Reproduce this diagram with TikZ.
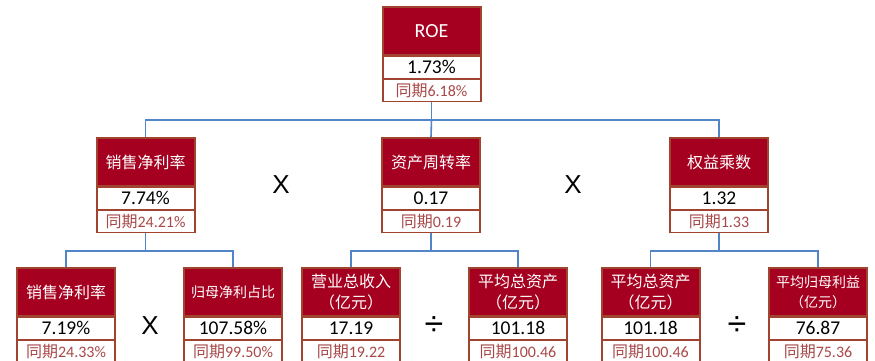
\documentclass[tikz,border=0pt]{standalone}
\usepackage{fontspec}
\setmainfont{Carlito}
\newfontfamily\cjk{Noto Sans CJK SC}
\newfontfamily\opfont{Liberation Sans}
\definecolor{bordercol}{HTML}{A0432F}
\definecolor{headred}{HTML}{A5001F}
\definecolor{prevcol}{HTML}{A84848}
\definecolor{linkblue}{HTML}{5285C8}
\tikzset{
  outerbox/.style={rectangle, fill=bordercol, draw=none, minimum width=100pt, minimum height=96pt, inner sep=0pt},
  headbox/.style={rectangle, fill=headred, text=white, minimum width=96pt, minimum height=46pt, inner sep=0pt, align=center, font=\cjk\fontsize{16}{21}\selectfont},
  smallhead/.style={font=\cjk\fontsize{14}{20}\selectfont},
  romanhead/.style={font=\fontsize{20}{20}\selectfont},
  valbox/.style={rectangle, fill=white, text=black, minimum width=96pt, minimum height=21pt, inner sep=0pt, font=\fontsize{19.5}{19.5}\selectfont},
  prevbox/.style={rectangle, fill=white, text=prevcol, minimum width=96pt, minimum height=21pt, inner sep=0pt, font=\fontsize{16}{16}\selectfont},
  link/.style={draw=linkblue, line width=1.6pt},
  optext/.style={font=\opfont\fontsize{26}{26}\selectfont, inner sep=0pt},
  divtext/.style={font=\opfont\fontsize{34}{34}\selectfont, inner sep=0pt}
}
\newcommand\metricbox[7][]{%
  \node[outerbox, anchor=north] (#2) at (#3,#4) {};
  \node[headbox, #1, anchor=north] (#2-h) at ([yshift=-2pt]#2.north) {#5};
  \node[valbox, anchor=north] (#2-v) at ([yshift=-2pt]#2-h.south) {#6};
  \node[prevbox, anchor=north] (#2-p) at ([yshift=-2pt]#2-v.south) {#7};
}
\begin{document}
\begin{tikzpicture}[x=1pt,y=-1pt]
\useasboundingbox (0,0) rectangle (875,361);
\clip (0,0) rectangle (875,361);
\fill[white] (0,0) rectangle (875,361);
% level 1
\metricbox[romanhead]{roe}{431.5}{6}{ROE}{1.73\%}{{\cjk 同期}6.18\%}
% level 2
\metricbox{npm}{145.5}{137}{销售净利率}{7.74\%}{{\cjk 同期}24.21\%}
\metricbox{turn}{431}{137}{资产周转率}{0.17}{{\cjk 同期}0.19}
\metricbox{lev}{719}{137}{权益乘数}{1.32}{{\cjk 同期}1.33}
% level 3
\metricbox{npmb}{66}{267}{销售净利率}{7.19\%}{{\cjk 同期}24.33\%}
\metricbox[smallhead]{share}{233}{267}{归母净利占比}{107.58\%}{{\cjk 同期}99.50\%}
\metricbox{rev}{351}{267}{营业总收入\\（亿元）}{17.19}{{\cjk 同期}19.22}
\metricbox{assa}{518}{267}{平均总资产\\（亿元）}{101.18}{{\cjk 同期}100.46}
\metricbox{assb}{650.5}{267}{平均总资产\\（亿元）}{101.18}{{\cjk 同期}100.46}
\metricbox[smallhead]{eq}{818}{267}{平均归母利益\\（亿元）}{76.87}{{\cjk 同期}75.36}
% connectors
\coordinate (j1) at (431.5,120);
\draw[link] (roe.south) -- (j1);
\draw[link] (j1) -| (npm.north);
\draw[link] (j1) -| (lev.north);
\draw[link] (j1) -- (turn.north);
\coordinate (j2) at (145.5,251);
\draw[link] (npm.south) -- (j2);
\draw[link] (j2) -| (npmb.north);
\draw[link] (j2) -| (share.north);
\coordinate (j3) at (431,251);
\draw[link] (turn.south) -- (j3);
\draw[link] (j3) -| (rev.north);
\draw[link] (j3) -| (assa.north);
\coordinate (j4) at (719,251);
\draw[link] (lev.south) -- (j4);
\draw[link] (j4) -| (assb.north);
\draw[link] (j4) -| (eq.north);
% operators
\node[optext] (op1) at (281,185) {X};
\node[optext] (op2) at (573,185) {X};
\node[optext] (op3) at (150,326) {X};
\node[divtext] (op4) at (434,326) {÷};
\node[divtext] (op5) at (737,326) {÷};
\end{tikzpicture}
\end{document}
